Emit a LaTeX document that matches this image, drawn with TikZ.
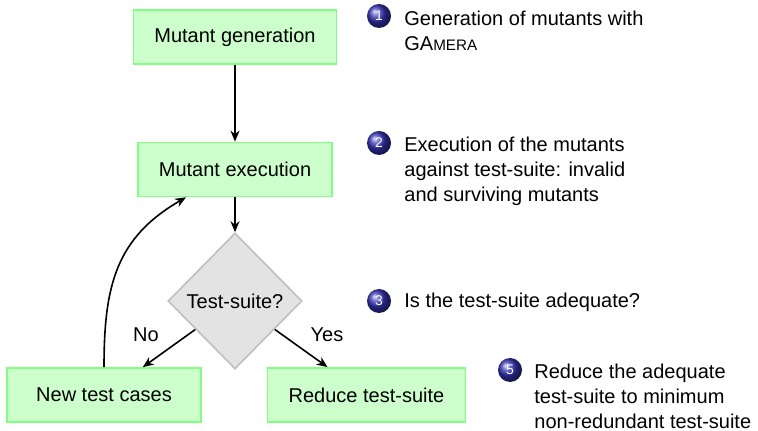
\documentclass[tikz,border=0pt]{standalone}
\usepackage{fontspec}
\setmainfont{Liberation Sans}
\usetikzlibrary{shapes.geometric,arrows.meta,calc}
\definecolor{ballblue}{rgb}{0.2,0.2,0.7}
\definecolor{boxfill}{rgb}{0.8,1,0.8}
\definecolor{boxdraw}{rgb}{0.5,1,0.5}
\tikzset{
  procbox/.style={rectangle, draw=boxdraw, fill=boxfill, line width=0.8pt,
    minimum height=27pt, minimum width=97pt, inner xsep=10.5pt, font=\fontsize{10}{12.5}\selectfont},
  decision/.style={diamond, draw=black!25, fill=black!11, line width=0.8pt,
    minimum width=67pt, minimum height=68pt, inner sep=0pt, font=\fontsize{10}{12.5}\selectfont},
  conn/.style={-{Stealth[length=5.5pt,width=4.5pt]}, line width=0.8pt},
  lbl/.style={font=\fontsize{10}{12.5}\selectfont, inner sep=0pt},
  itemtext/.style={anchor=north west, inner sep=0pt, align=left, font=\fontsize{10}{12.5}\selectfont},
  itemnum/.style={text=white, font=\fontsize{7}{8}\selectfont, inner sep=0pt}
}
\newcommand{\itemball}[3]{%
  \shade[ball color=ballblue] (#1) circle[radius=6pt];
  \node[itemnum] (#2) at (#1) {#3};}
\begin{document}
\begin{tikzpicture}[x=0.5pt,y=-0.5pt]
\useasboundingbox (0,0) rectangle (758,431);
% flowchart
\node[procbox] (gen) at (235,37) {Mutant generation};
\node[procbox] (exec) at (235,169.5) {Mutant execution};
\node[decision] (dia) at (235,301) {Test-suite?};
\node[procbox] (new) at (104,395) {New test cases};
\node[procbox] (red) at (366.5,395) {Reduce test-suite};
\draw[conn] (gen) -- (exec);
\draw[conn] (exec) -- (dia);
\draw[conn] (dia) -- (new);
\draw[conn] (dia) -- (red);
\coordinate (back) at ($(exec.south)!0.5!(exec.south west)$);
\draw[conn] (new.north) to[out=90,in=210,looseness=1.1] (back);
\node[lbl] (no) at (146,335) {No};
\node[lbl] (yes) at (327,335) {Yes};
% items
\itemball{379,16}{b1}{1}
\node[itemtext] (t1) at (404,11) {Generation of mutants with\\GA{\fontsize{7.6}{9}\selectfont MERA}};
\itemball{379,143}{b2}{2}
\node[itemtext] (t2) at (404,137) {Execution of the mutants\\against test-suite: invalid\\and surviving mutants};
\itemball{379,301}{b3}{3}
\node[itemtext] (t3) at (404,293) {Is the test-suite adequate?};
\itemball{510,370}{b5}{5}
\node[itemtext] (t5) at (534,364) {Reduce the adequate\\test-suite to minimum\\non-redundant test-suite};
\end{tikzpicture}
\end{document}
